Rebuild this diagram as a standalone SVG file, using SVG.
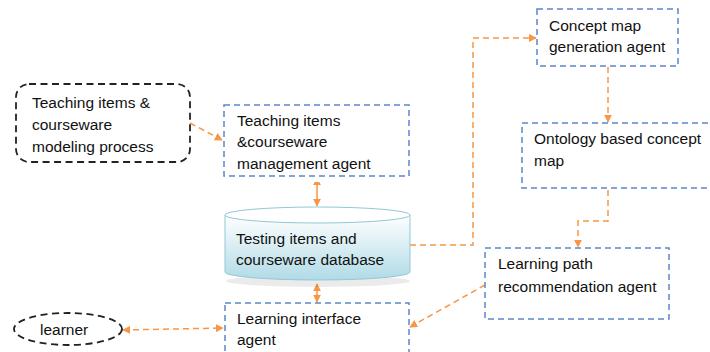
<svg xmlns="http://www.w3.org/2000/svg" width="710" height="352" viewBox="0 0 710 352">
<style>
.bx{fill:none;stroke:#5b87c8;stroke-width:1.5;stroke-dasharray:6,4}
.bk{fill:none;stroke:#222;stroke-width:1.8;stroke-dasharray:7,4.5}
.cn{fill:none;stroke:#f79646;stroke-width:1.5;stroke-dasharray:6,4}
.cs{fill:none;stroke:#f79646;stroke-width:1.5}
text{font-family:"Liberation Sans",Arial,sans-serif;font-size:15.5px;fill:#111}
</style>
<defs>
<marker id="ah" viewBox="0 0 10 10" refX="9" refY="5" markerWidth="8" markerHeight="8" markerUnits="userSpaceOnUse" orient="auto-start-reverse"><path d="M0,0 L10,5 L0,10 z" fill="#f79646"/></marker>
<linearGradient id="cyl" x1="0" y1="0" x2="0" y2="1"><stop offset="0" stop-color="#ffffff"/><stop offset="1" stop-color="#b0dbe6"/></linearGradient>
</defs>
<g id="connectors">
<path class="cn" d="M190,123 L222,140" marker-end="url(#ah)"/>
<path class="cs" d="M317,178 L317,206" marker-start="url(#ah)" marker-end="url(#ah)"/>
<path class="cs" d="M317,284 L317,302" marker-start="url(#ah)" marker-end="url(#ah)"/>
<path class="cn" d="M123,330 L223,328" marker-start="url(#ah)" marker-end="url(#ah)"/>
<path class="cn" d="M410,245 L473,245 L473,38 L536,38" marker-end="url(#ah)"/>
<path class="cn" d="M608,67 L608,122" marker-end="url(#ah)"/>
<path class="cn" d="M608,190 L608,221 L578,221 L578,247" marker-end="url(#ah)"/>
<path class="cn" d="M485,285 L410,327" marker-end="url(#ah)"/>
</g>
<g id="modeling">
<rect class="bk" x="16" y="84" width="174" height="78" rx="13"/>
<text x="32" y="108">Teaching items &amp;</text>
<text x="32" y="130">courseware</text>
<text x="32" y="152">modeling process</text>
</g>
<g id="management">
<text x="237" y="126">Teaching items</text>
<text x="237" y="147">&amp;courseware</text>
<text x="237" y="169">management agent</text>
<rect x="224" y="172" width="186" height="10" fill="#fff"/>
<rect class="bx" x="224" y="105" width="185" height="71"/>
</g>
<g id="database">
<ellipse cx="318" cy="281" rx="92" ry="6" fill="#000" opacity="0.08"/>
<path d="M225,215 L225,272 A92.5,8 0 0 0 410,272 L410,215 Z" fill="url(#cyl)" stroke="#93c7d6" stroke-width="1"/>
<ellipse cx="317.5" cy="215" rx="92.5" ry="8" fill="#fff" stroke="#93c7d6" stroke-width="1"/>
<text x="236" y="244">Testing items and</text>
<text x="236" y="265">courseware database</text>
</g>
<g id="interface">
<rect class="bx" x="225" y="303" width="184" height="70"/>
<text x="237" y="324">Learning interface</text>
<text x="237" y="345">agent</text>
</g>
<g id="learner">
<ellipse class="bk" cx="68" cy="329" rx="54" ry="16"/>
<text x="40" y="335">learner</text>
</g>
<g id="conceptgen">
<rect class="bx" x="537" y="9" width="141" height="57"/>
<text x="549" y="31">Concept map</text>
<text x="549" y="52">generation agent</text>
</g>
<g id="ontology">
<rect class="bx" x="522" y="123" width="200" height="65"/>
<text x="534" y="144">Ontology based concept</text>
<text x="534" y="166">map</text>
</g>
<g id="learningpath">
<rect class="bx" x="485" y="248" width="184" height="71"/>
<text x="498" y="269">Learning path</text>
<text x="498" y="292">recommendation agent</text>
</g>
</svg>
